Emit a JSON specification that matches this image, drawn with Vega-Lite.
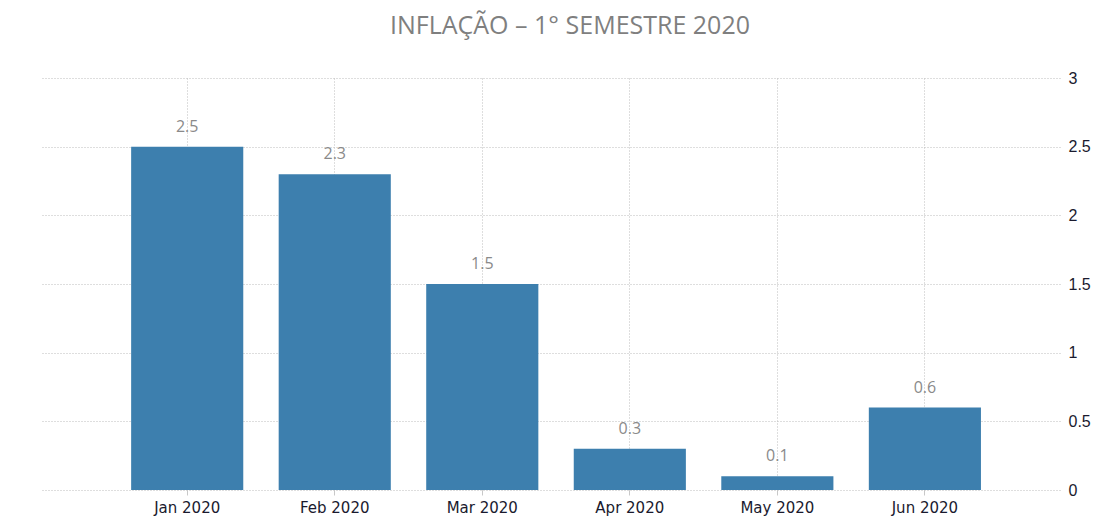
{
  "$schema": "https://vega.github.io/schema/vega-lite/v6.json",
  "width": 1018,
  "height": 412,
  "autosize": {"type": "none"},
  "padding": {"left": 42, "top": 78, "right": 40, "bottom": 41},
  "background": "white",
  "title": {
    "text": "INFLAÇÃO – 1° SEMESTRE 2020",
    "font": "Open Sans",
    "fontSize": 25,
    "fontWeight": "normal",
    "color": "#7f7f7f",
    "anchor": "middle",
    "dx": 19,
    "offset": 31
  },
  "config": {"view": {"stroke": null}},
  "data": {
    "values": [
      {"mes": "Jan 2020", "valor": 2.5},
      {"mes": "Feb 2020", "valor": 2.3},
      {"mes": "Mar 2020", "valor": 1.5},
      {"mes": "Apr 2020", "valor": 0.3},
      {"mes": "May 2020", "valor": 0.1},
      {"mes": "Jun 2020", "valor": 0.6}
    ]
  },
  "encoding": {
    "x": {
      "field": "mes",
      "type": "ordinal",
      "sort": null,
      "scale": {"paddingInner": 0.24, "paddingOuter": 0.57, "align": 0.53},
      "axis": {
        "title": null,
        "labelAngle": 0,
        "domain": false,
        "grid": true,
        "gridDash": [1, 2],
        "gridColor": "#bdbdbd",
        "ticks": true,
        "tickSize": 5,
        "tickColor": "#c8c8c8",
        "labelFont": "DejaVu Sans",
        "labelFontSize": 15,
        "labelColor": "#1a1a2e",
        "labelPadding": 5
      }
    },
    "y": {
      "field": "valor",
      "type": "quantitative",
      "scale": {"domain": [0, 3], "nice": false},
      "axis": {
        "title": null,
        "orient": "right",
        "values": [0, 0.5, 1, 1.5, 2, 2.5, 3],
        "format": "~g",
        "domain": false,
        "ticks": false,
        "grid": true,
        "gridDash": [1, 2],
        "gridColor": "#bdbdbd",
        "labelFont": "Liberation Sans",
        "labelFontSize": 16,
        "labelColor": "#1a1a2e",
        "labelPadding": 8
      }
    }
  },
  "layer": [
    {"mark": {"type": "bar", "color": "#3d7fae"}},
    {
      "mark": {
        "type": "text",
        "dy": -12,
        "baseline": "bottom",
        "font": "Open Sans",
        "fontSize": 16,
        "color": "#8a8a8a"
      },
      "encoding": {"text": {"field": "valor", "type": "quantitative", "format": "~g"}}
    }
  ]
}
